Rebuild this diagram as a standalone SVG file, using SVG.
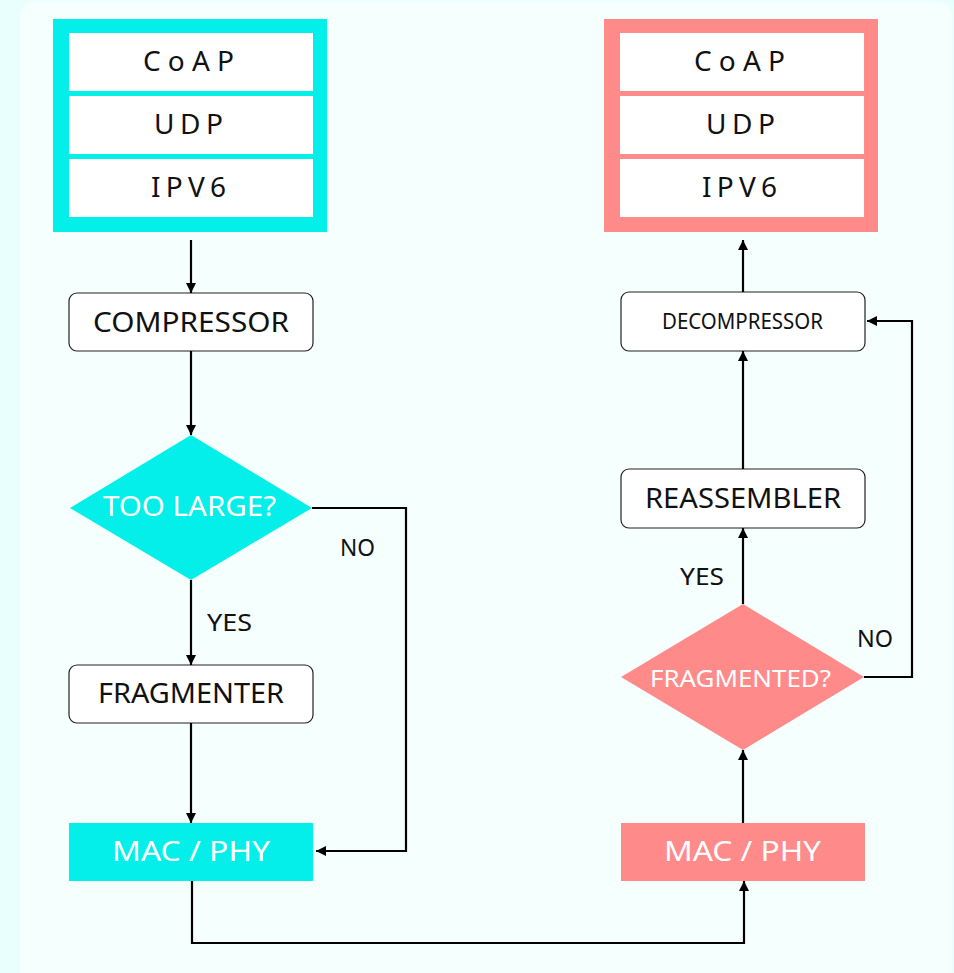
<svg xmlns="http://www.w3.org/2000/svg" width="954" height="973" viewBox="0 0 954 973">
<style>
text{font-family:"Noto Sans","DejaVu Sans",sans-serif}
.row{fill:#ffffff}
.stk{font-size:28px;fill:#111}
.box{fill:#ffffff;stroke:#222;stroke-width:1.2}
.lbl{font-size:27px;fill:#111}
.wl{fill:#ffffff}
.edge{fill:none;stroke:#000;stroke-width:2.2}
.ann{font-size:23px;fill:#111}
</style>
<defs>
<marker id="ah" viewBox="0 0 10 10" refX="10" refY="5" markerWidth="10" markerHeight="10" markerUnits="userSpaceOnUse" orient="auto">
<path d="M0,0 L10,5 L0,10 z" fill="#000"/>
</marker>
</defs>
<rect x="0" y="0" width="954" height="973" fill="#e9fffe"/>
<rect x="20" y="2" width="932" height="990" rx="14" fill="#f5fffe"/>

<g id="stack-left">
<rect x="53" y="19" width="274" height="213" fill="#04efe9"/>
<rect class="row" x="69" y="33" width="244" height="58"/>
<rect class="row" x="69" y="96" width="244" height="58"/>
<rect class="row" x="69" y="159" width="244" height="58"/>
<text class="stk" x="143" y="71" textLength="91">CoAP</text>
<text class="stk" x="154" y="134" textLength="69">UDP</text>
<text class="stk" x="151" y="197" textLength="75">IPV6</text>
</g>

<g id="stack-right">
<rect x="604" y="19" width="274" height="213" fill="#ff8a8a"/>
<rect class="row" x="620" y="33" width="244" height="58"/>
<rect class="row" x="620" y="96" width="244" height="58"/>
<rect class="row" x="620" y="159" width="244" height="58"/>
<text class="stk" x="694" y="71" textLength="91">CoAP</text>
<text class="stk" x="706" y="134" textLength="69">UDP</text>
<text class="stk" x="702" y="197" textLength="75">IPV6</text>
</g>

<g id="compressor">
<rect class="box" x="69" y="293" width="244" height="58" rx="8"/>
<text class="lbl" x="93" y="332" textLength="196" lengthAdjust="spacingAndGlyphs">COMPRESSOR</text>
</g>

<g id="too-large">
<polygon points="191,435 312,508 191,580 70,508" fill="#04efe9"/>
<text class="wl" x="103" y="516" font-size="27" textLength="173" lengthAdjust="spacingAndGlyphs">TOO LARGE?</text>
</g>

<g id="fragmenter">
<rect class="box" x="69" y="665" width="244" height="58" rx="8"/>
<text class="lbl" x="98" y="703" textLength="186" lengthAdjust="spacingAndGlyphs">FRAGMENTER</text>
</g>

<g id="mac-left">
<rect x="69" y="823" width="244" height="58" fill="#04efe9"/>
<text class="wl" x="112" y="861" font-size="28" textLength="158" lengthAdjust="spacingAndGlyphs">MAC / PHY</text>
</g>

<g id="mac-right">
<rect x="621" y="823" width="244" height="58" fill="#ff8a8a"/>
<text class="wl" x="664" y="861" font-size="28" textLength="157" lengthAdjust="spacingAndGlyphs">MAC / PHY</text>
</g>

<g id="fragmented">
<polygon points="743,604 864,677 743,750 621,677" fill="#ff8a8a"/>
<text class="wl" x="650" y="687" font-size="24" textLength="181" lengthAdjust="spacingAndGlyphs">FRAGMENTED?</text>
</g>

<g id="reassembler">
<rect class="box" x="621" y="469" width="244" height="59" rx="8"/>
<text class="lbl" x="645" y="508" textLength="196" lengthAdjust="spacingAndGlyphs">REASSEMBLER</text>
</g>

<g id="decompressor">
<rect class="box" x="621" y="292" width="244" height="59" rx="8"/>
<text x="662" y="329" font-size="21" fill="#111" textLength="161" lengthAdjust="spacingAndGlyphs">DECOMPRESSOR</text>
</g>

<g id="connectors">
<line class="edge" x1="191" y1="240" x2="191" y2="293" marker-end="url(#ah)"/>
<line class="edge" x1="191" y1="351" x2="191" y2="435" marker-end="url(#ah)"/>
<line class="edge" x1="191" y1="580" x2="191" y2="665" marker-end="url(#ah)"/>
<line class="edge" x1="191" y1="723" x2="191" y2="823" marker-end="url(#ah)"/>
<polyline class="edge" points="312,508 406,508 406,851 316,851" marker-end="url(#ah)"/>
<polyline class="edge" points="192,881 192,943 744,943 744,881" marker-end="url(#ah)"/>
<line class="edge" x1="743" y1="823" x2="743" y2="750" marker-end="url(#ah)"/>
<line class="edge" x1="743" y1="604" x2="743" y2="528" marker-end="url(#ah)"/>
<line class="edge" x1="743" y1="469" x2="743" y2="351" marker-end="url(#ah)"/>
<line class="edge" x1="743" y1="292" x2="743" y2="240" marker-end="url(#ah)"/>
<polyline class="edge" points="864,677 912,677 912,321 867,321" marker-end="url(#ah)"/>
<text class="ann" x="340" y="556" textLength="35" lengthAdjust="spacingAndGlyphs">NO</text>
<text class="ann" x="207" y="631" textLength="45" lengthAdjust="spacingAndGlyphs">YES</text>
<text class="ann" x="680" y="585" textLength="44" lengthAdjust="spacingAndGlyphs">YES</text>
<text class="ann" x="857" y="647" textLength="36" lengthAdjust="spacingAndGlyphs">NO</text>
</g>
</svg>
